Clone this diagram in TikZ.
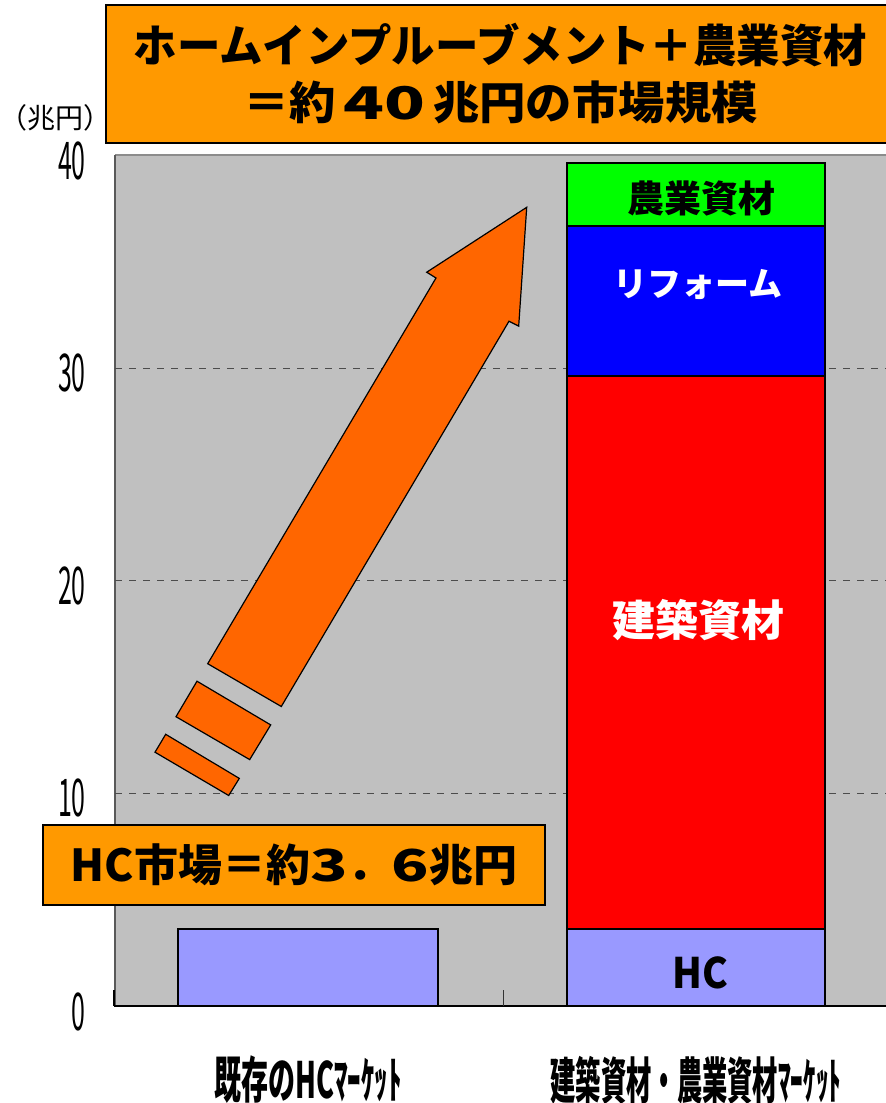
\documentclass[tikz,border=0pt]{standalone}
\usepackage{fontspec}
\setmainfont{Noto Sans CJK JP}
\newcommand{\hx}[2]{\scalebox{#1}[1]{#2}}
\definecolor{titleorange}{HTML}{FF9900}
\definecolor{arroworange}{HTML}{FF6600}
\definecolor{plotgray}{HTML}{C0C0C0}
\definecolor{hcblue}{HTML}{9999FF}
\definecolor{agrigreen}{HTML}{00FF00}
\definecolor{reformblue}{HTML}{0000FF}
\definecolor{buildred}{HTML}{FF0000}
\begin{document}
\begin{tikzpicture}[x=1pt,y=-1pt,
  barseg/.style={draw=black,line width=1.5pt},
  gridln/.style={dash pattern=on 7pt off 7pt,line width=0.9pt,black!70},
  ticklbl/.style={anchor=east,inner sep=0pt,font=\fontsize{52}{52}\selectfont},
  catlbl/.style={inner sep=0pt,font=\fontsize{50}{50}\selectfont\bfseries},
  inlbl/.style={inner sep=0pt,font=\fontsize{37}{37}\selectfont\bfseries},
  callout/.style={draw=black,line width=2pt,fill=titleorange,inner sep=0pt,align=center},
  arrowpart/.style={fill=arroworange,draw=black,line width=1.2pt,line join=miter}]
\useasboundingbox (0,0) rectangle (886,1103);
\fill[white] (0,0) rectangle (886,1103);

% plot area
\fill[plotgray] (115,155) rectangle (895,1006);
\draw[black!45,line width=2pt] (115,155) -- (895,155);
\draw[black!65,line width=1.5pt] (115,155) -- (115,1006);
\foreach \yy in {368,580.5,793}{
  \draw[gridln] (115,\yy) -- (895,\yy);
}

% bars
\draw[barseg,fill=hcblue] (178,929) rectangle (438,1006);
\draw[barseg,fill=hcblue] (567,929) rectangle (825,1006);
\draw[barseg,fill=buildred] (567,376) rectangle (825,929);
\draw[barseg,fill=reformblue] (567,226) rectangle (825,376);
\draw[barseg,fill=agrigreen] (567,163) rectangle (825,226);

% axis
\draw[black,line width=1.5pt] (114,1006) -- (895,1006);
\draw[black,line width=1.5pt] (114,990) -- (114,1006);
\draw[black!80,line width=1pt] (503,990) -- (503,1006);

% arrow
\draw[arrowpart] (207.7,663.7) -- (436,278) -- (426.7,272.2) -- (526.7,207.3)
  -- (518.7,326.1) -- (509,321.2) -- (281.3,706.5) -- cycle;
\draw[arrowpart] (197,681.2) -- (270.7,724.9) -- (249.7,759.6) -- (176,716.7) -- cycle;
\draw[arrowpart] (165.7,734.3) -- (239.3,778.4) -- (228.7,795.5) -- (155,752.2) -- cycle;

% bar labels
\node[inlbl,text=black] (lagri) at (701,198) {農業資材};
\node[inlbl,text=white,font=\fontsize{34}{34}\selectfont\bfseries] (lreform) at (698,284) {リフォーム};
\node[inlbl,text=white,font=\fontsize{43}{43}\selectfont\bfseries] (lbuild) at (698,620) {建築資材};
\node[inlbl,text=black,font=\fontsize{42}{42}\selectfont\bfseries] (lhc) at (700,973) {\hx{0.92}{HC}};

% tick labels
\node[ticklbl] (t40) at (86,161) {\hx{0.48}{40}};
\node[ticklbl] (t30) at (86,373) {\hx{0.48}{30}};
\node[ticklbl] (t20) at (86,586) {\hx{0.48}{20}};
\node[ticklbl] (t10) at (86,798) {\hx{0.48}{10}};
\node[ticklbl] (t0) at (86,1012) {\hx{0.48}{0}};
\node[inner sep=0pt,font=\fontsize{28}{28}\selectfont] (unit) at (55,118) {（兆円）};

% category labels
\node[catlbl] (cat1) at (308,1080) {\hx{0.54}{既存のHCﾏｰｹｯﾄ}};
\node[catlbl] (cat2) at (696,1080) {\hx{0.506}{建築資材・農業資材ﾏｰｹｯﾄ}};

% callouts
\node[callout,minimum width=789pt,minimum height=138pt,
  font=\fontsize{45}{57}\selectfont\bfseries] (title) at (500.5,74)
  {\hx{0.965}{ホームインプルーブメント＋農業資材}\\\hx{1.03}{＝約\,\hx{1.45}{40}\,兆円の市場規模}};
\node[callout,minimum width=502pt,minimum height=80pt,
  font=\fontsize{44}{44}\selectfont\bfseries] (hcbox) at (294,865)
  {\hx{1.0}{HC市場＝約\hx{1.4}{3}．\hx{1.4}{6}兆円}};
\end{tikzpicture}
\end{document}
